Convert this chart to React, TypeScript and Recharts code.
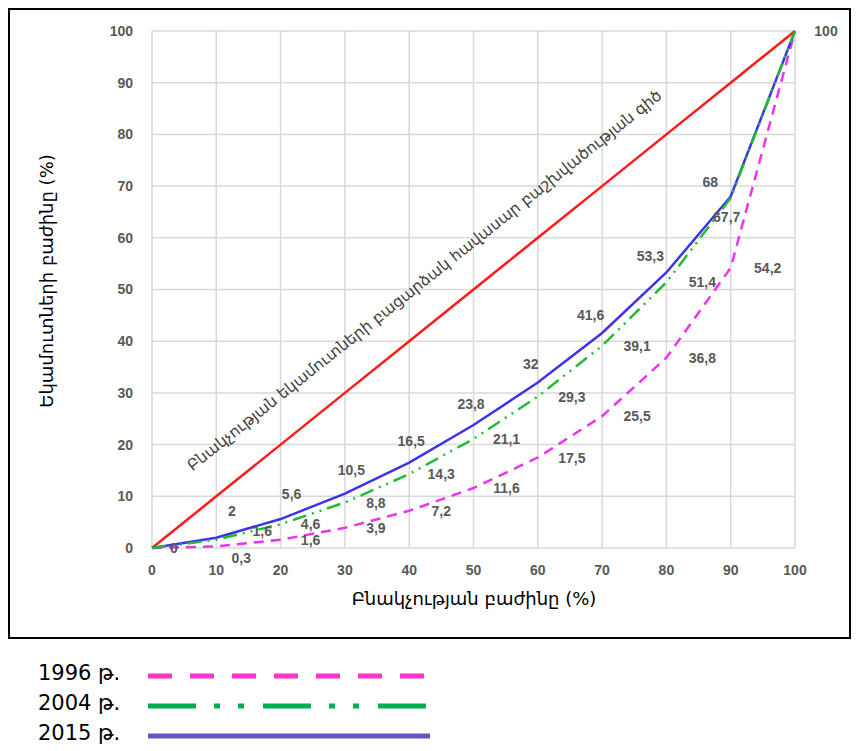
import React from 'react';
import {
  LineChart,
  Line,
  XAxis,
  YAxis,
  CartesianGrid,
  LabelList,
} from 'recharts';

// population share, %
const populationShare = [0, 10, 20, 30, 40, 50, 60, 70, 80, 90, 100];
// line of absolute equality
const equalityLine = [0, 10, 20, 30, 40, 50, 60, 70, 80, 90, 100];
// income share, %
const share1996 = [0, 0.3, 1.6, 3.9, 7.2, 11.6, 17.5, 25.5, 36.8, 54.2, 100];
const share2004 = [0, 1.6, 4.6, 8.8, 14.3, 21.1, 29.3, 39.1, 51.4, 67.7, 100];
const share2015 = [0, 2, 5.6, 10.5, 16.5, 23.8, 32, 41.6, 53.3, 68, 100];

const axisTicks = [0, 10, 20, 30, 40, 50, 60, 70, 80, 90, 100];

const legendItems = ['1996 թ.', '2004 թ.', '2015 թ.'];
const equalityText = 'Բնակչության եկամուտների բացարձակ հավասար բաշխվածության գիծ';
const xTitle = 'Բնակչության բաժինը (%)';
const yTitle = 'Եկամուտների բաժինը (%)';

const data = populationShare.map((x, i) => ({
  x,
  equality: equalityLine[i],
  y1996: share1996[i],
  y2004: share2004[i],
  y2015: share2015[i],
}));

const LAST = populationShare.length - 1;
const fmt = (v: number) => String(v).replace('.', ',');

const labelFont = {
  fontFamily: '"Liberation Sans", Arial, sans-serif',
  fontSize: 14,
  fontWeight: 700,
  fill: '#595959',
};

const armenianFont = '"DejaVu Sans", "Noto Sans", sans-serif';

const label2015 = (p: any) => {
  const { x, y, value, index } = p;
  let dx = 20 - 4.5 * index;
  let dy = -28 + 1.5 * index;
  if (index === 0) { dx = 22; dy = 0; }
  if (index === LAST) { dx = 31; dy = 0; }
  return (
    <text x={x + dx} y={y + dy} textAnchor="middle" dominantBaseline="central" {...labelFont}>
      {fmt(value)}
    </text>
  );
};

const label2004 = (p: any) => {
  const { x, y, value, index } = p;
  if (index === 0 || index === LAST) return null;
  let dx = 28 + index;
  let dy = 0;
  if (index === 1) { dx = 46; dy = -9; }
  if (index === 9) { dx = -4; dy = 19; }
  return (
    <text x={x + dx} y={y + dy} textAnchor="middle" dominantBaseline="central" {...labelFont}>
      {fmt(value)}
    </text>
  );
};

const label1996 = (p: any) => {
  const { x, y, value, index } = p;
  if (index === 0 || index === LAST) return null;
  let dx = 28 + index;
  let dy = 0;
  if (index === 1) { dx = 25; dy = 12; }
  return (
    <text x={x + dx} y={y + dy} textAnchor="middle" dominantBaseline="central" {...labelFont}>
      {fmt(value)}
    </text>
  );
};

const equalityLabel = (p: any) => {
  const { x, y, index } = p;
  if (index !== 5) return null;
  const cx = x - 49;
  const cy = y - 9;
  return (
    <text
      x={cx}
      y={cy}
      textAnchor="middle"
      dominantBaseline="central"
      transform={`rotate(-38.5, ${cx}, ${cy})`}
      fontFamily={armenianFont}
      fontSize={15.6}
      fill="#404040"
    >
      {equalityText}
    </text>
  );
};

const legendStyles = [
  { color: '#ff33cc', dash: '24 18' },
  { color: '#00b050', dash: '48 18 6 18 6 19' },
  { color: '#6655c4', dash: undefined },
];

const App: React.FC = () => {
  return (
    <div style={{ width: 843 }}>
      <div
        style={{
          position: 'relative',
          width: 839,
          height: 627,
          border: '2px solid #000',
          background: '#fff',
        }}
      >
        <LineChart
          width={839}
          height={627}
          data={data}
          margin={{ top: 21, right: 54, left: 0, bottom: 59 }}
        >
          <CartesianGrid stroke="#d9d9d9" strokeWidth={1.5} />
          <XAxis
            dataKey="x"
            type="number"
            domain={[0, 100]}
            ticks={axisTicks}
            height={30}
            axisLine={false}
            tickLine={false}
            tickSize={0}
            tickMargin={17}
            tick={{ ...labelFont }}
            interval={0}
          />
          <YAxis
            type="number"
            domain={[0, 100]}
            ticks={axisTicks}
            width={142}
            axisLine={false}
            tickLine={false}
            tickSize={0}
            tickMargin={19}
            tick={{ ...labelFont }}
            interval={0}
          />
          <Line
            dataKey="equality"
            type="linear"
            stroke="#ff1a1a"
            strokeWidth={2.5}
            dot={false}
            isAnimationActive={false}
          >
            <LabelList dataKey="equality" content={equalityLabel} />
          </Line>
          <Line
            dataKey="y1996"
            type="linear"
            stroke="#ee33ee"
            strokeWidth={2.5}
            strokeDasharray="10 7"
            dot={false}
            isAnimationActive={false}
          >
            <LabelList dataKey="y1996" content={label1996} />
          </Line>
          <Line
            dataKey="y2015"
            type="linear"
            stroke="#3d33ee"
            strokeWidth={2.5}
            dot={false}
            isAnimationActive={false}
          >
            <LabelList dataKey="y2015" content={label2015} />
          </Line>
          <Line
            dataKey="y2004"
            type="linear"
            stroke="#22bb33"
            strokeWidth={2.5}
            strokeDasharray="14 6 2 6 2 6"
            dot={false}
            isAnimationActive={false}
          >
            <LabelList dataKey="y2004" content={label2004} />
          </Line>
        </LineChart>
        <div
          style={{
            position: 'absolute',
            left: 36,
            top: 271,
            transform: 'translate(-50%, -50%) rotate(-90deg)',
            whiteSpace: 'nowrap',
            fontFamily: armenianFont,
            fontSize: 18,
            color: '#000',
          }}
        >
          {yTitle}
        </div>
        <div
          style={{
            position: 'absolute',
            left: 464,
            top: 588,
            transform: 'translate(-50%, -50%)',
            whiteSpace: 'nowrap',
            fontFamily: armenianFont,
            fontSize: 18,
            color: '#000',
          }}
        >
          {xTitle}
        </div>
      </div>
      <div style={{ marginTop: 19, marginLeft: 30 }}>
        {legendItems.map((name, i) => (
          <div key={name} style={{ display: 'flex', alignItems: 'center', height: 30 }}>
            <span
              style={{
                width: 110,
                fontFamily: armenianFont,
                fontSize: 21,
                color: '#000',
                whiteSpace: 'nowrap',
              }}
            >
              {name}
            </span>
            <svg width={282} height={10} style={{ marginTop: 6 }}>
              <line
                x1={0}
                y1={5}
                x2={282}
                y2={5}
                stroke={legendStyles[i].color}
                strokeWidth={5}
                strokeDasharray={legendStyles[i].dash}
              />
            </svg>
          </div>
        ))}
      </div>
    </div>
  );
};

export default App;
